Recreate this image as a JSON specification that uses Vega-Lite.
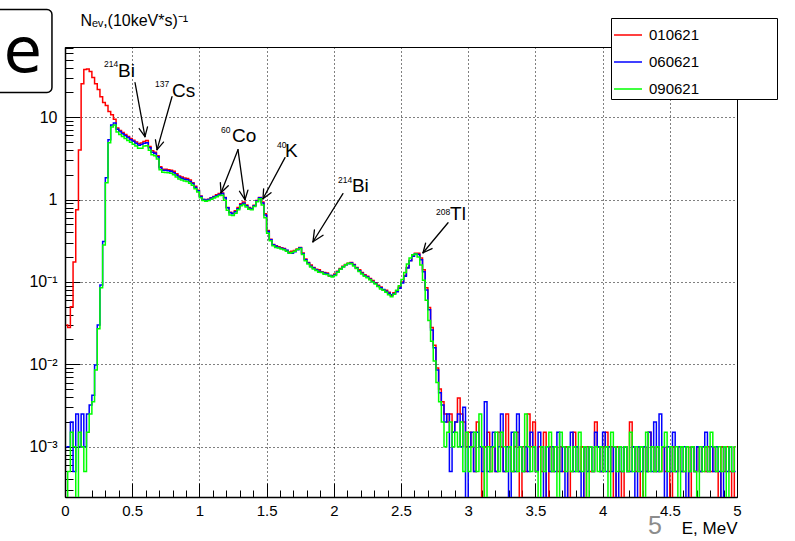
{
"$schema": "https://vega.github.io/schema/vega-lite/v6.json",
"width": 672, "height": 450,
"autosize": "none",
"padding": {"left": 65, "top": 47, "right": 58, "bottom": 44},
"background": "white",
"config": {
  "font": "Liberation Sans",
  "view": {"stroke": "black", "strokeWidth": 1},
  "axis": {"labelFont": "Liberation Sans", "titleFont": "Liberation Sans", "labelColor": "black", "titleColor": "black", "titleFontWeight": "normal", "domainColor": "black", "tickColor": "black", "gridColor": "black", "gridDash": [1, 3], "gridOpacity": 1, "labelFlush": false, "labelOverlap": false}
},
"datasets": {
"r": [{"e":0.01,"v":0.03},{"e":0.03,"v":0.028},{"e":0.05,"v":0.05},{"e":0.07,"v":0.175},{"e":0.09,"v":0.75},{"e":0.11,"v":4.0},{"e":0.13,"v":25.5},{"e":0.15,"v":37.8},{"e":0.17,"v":38.3},{"e":0.19,"v":35.7},
{"e":0.21,"v":30.2},{"e":0.23,"v":25.5},{"e":0.25,"v":21.6},{"e":0.27,"v":17.7},{"e":0.29,"v":15.0},{"e":0.31,"v":13.8},{"e":0.33,"v":11.7},{"e":0.35,"v":10.7},{"e":0.37,"v":9.4},{"e":0.39,"v":7.4},
{"e":0.41,"v":6.9},{"e":0.43,"v":6.5},{"e":0.45,"v":6.15},{"e":0.47,"v":5.8},{"e":0.49,"v":5.5},{"e":0.51,"v":5.25},{"e":0.53,"v":5.0},{"e":0.55,"v":4.75},{"e":0.57,"v":4.85},{"e":0.59,"v":5.05},
{"e":0.61,"v":5.2},{"e":0.63,"v":4.4},{"e":0.65,"v":3.9},{"e":0.67,"v":3.75},{"e":0.69,"v":3.4},{"e":0.71,"v":2.5},{"e":0.73,"v":2.33},{"e":0.75,"v":2.33},{"e":0.77,"v":2.3},{"e":0.79,"v":2.27},
{"e":0.81,"v":2.2},{"e":0.83,"v":2.05},{"e":0.85,"v":1.93},{"e":0.87,"v":1.88},{"e":0.89,"v":1.83},{"e":0.91,"v":1.8},{"e":0.93,"v":1.72},{"e":0.95,"v":1.6},{"e":0.97,"v":1.45},{"e":0.99,"v":1.3},
{"e":1.01,"v":1.1},{"e":1.03,"v":1.0},{"e":1.05,"v":0.99},{"e":1.07,"v":1.01},{"e":1.09,"v":1.05},{"e":1.11,"v":1.09},{"e":1.13,"v":1.14},{"e":1.15,"v":1.18},{"e":1.17,"v":1.2},{"e":1.19,"v":1.06},
{"e":1.21,"v":0.8},{"e":1.23,"v":0.7},{"e":1.25,"v":0.68},{"e":1.27,"v":0.73},{"e":1.29,"v":0.8},{"e":1.31,"v":0.89},{"e":1.33,"v":0.93},{"e":1.35,"v":0.86},{"e":1.37,"v":0.8},{"e":1.39,"v":0.78},
{"e":1.41,"v":0.85},{"e":1.43,"v":0.97},{"e":1.45,"v":1.06},{"e":1.47,"v":0.93},{"e":1.49,"v":0.67},{"e":1.51,"v":0.42},{"e":1.53,"v":0.33},{"e":1.55,"v":0.285},{"e":1.57,"v":0.275},{"e":1.59,"v":0.268},
{"e":1.61,"v":0.26},{"e":1.63,"v":0.255},{"e":1.65,"v":0.24},{"e":1.67,"v":0.23},{"e":1.69,"v":0.235},{"e":1.71,"v":0.24},{"e":1.73,"v":0.25},{"e":1.75,"v":0.262},{"e":1.77,"v":0.225},{"e":1.79,"v":0.19},
{"e":1.81,"v":0.172},{"e":1.83,"v":0.16},{"e":1.85,"v":0.15},{"e":1.87,"v":0.142},{"e":1.89,"v":0.14},{"e":1.91,"v":0.133},{"e":1.93,"v":0.13},{"e":1.95,"v":0.128},{"e":1.97,"v":0.118},{"e":1.99,"v":0.12},
{"e":2.01,"v":0.125},{"e":2.03,"v":0.135},{"e":2.05,"v":0.145},{"e":2.07,"v":0.155},{"e":2.09,"v":0.163},{"e":2.11,"v":0.168},{"e":2.13,"v":0.172},{"e":2.15,"v":0.163},{"e":2.17,"v":0.15},{"e":2.19,"v":0.14},
{"e":2.21,"v":0.13},{"e":2.23,"v":0.122},{"e":2.25,"v":0.117},{"e":2.27,"v":0.11},{"e":2.29,"v":0.104},{"e":2.31,"v":0.098},{"e":2.33,"v":0.091},{"e":2.35,"v":0.087},{"e":2.37,"v":0.08},{"e":2.39,"v":0.079},
{"e":2.41,"v":0.075},{"e":2.43,"v":0.069},{"e":2.45,"v":0.074},{"e":2.47,"v":0.078},{"e":2.49,"v":0.087},{"e":2.51,"v":0.1},{"e":2.53,"v":0.12},{"e":2.55,"v":0.15},{"e":2.57,"v":0.182},{"e":2.59,"v":0.208},
{"e":2.61,"v":0.222},{"e":2.63,"v":0.222},{"e":2.65,"v":0.195},{"e":2.67,"v":0.14},{"e":2.69,"v":0.085},{"e":2.71,"v":0.049},{"e":2.73,"v":0.028},{"e":2.75,"v":0.017},{"e":2.77,"v":0.009},{"e":2.79,"v":0.005},
{"e":2.81,"v":0.0035},{"e":2.83,"v":0.0025},{"e":2.85,"v":0.002},{"e":2.87,"v":0.0025},{"e":2.89,"v":0.0015},{"e":2.91,"v":0.002},{"e":2.93,"v":0.0039},{"e":2.95,"v":0.0025},{"e":2.97,"v":0.002},{"e":2.99,"v":0.001},
{"e":3.01,"v":0.0015},{"e":3.03,"v":0.001},{"e":3.05,"v":0.0005},{"e":3.07,"v":0.002},{"e":3.09,"v":0.001},{"e":3.11,"v":0.0001},{"e":3.13,"v":0.001},{"e":3.15,"v":0.0015},{"e":3.17,"v":0.0005},{"e":3.19,"v":0.001},
{"e":3.21,"v":0.0005},{"e":3.23,"v":0.0015},{"e":3.25,"v":0.001},{"e":3.27,"v":0.0005},{"e":3.29,"v":0.0025},{"e":3.31,"v":0.001},{"e":3.33,"v":0.0005},{"e":3.35,"v":0.001},{"e":3.37,"v":0.0015},{"e":3.39,"v":0.0001},
{"e":3.41,"v":0.001},{"e":3.43,"v":0.0005},{"e":3.45,"v":0.0025},{"e":3.47,"v":0.001},{"e":3.49,"v":0.002},{"e":3.51,"v":0.0005},{"e":3.53,"v":0.001},{"e":3.55,"v":0.0005},{"e":3.57,"v":0.0015},{"e":3.59,"v":0.0001},
{"e":3.61,"v":0.001},{"e":3.63,"v":0.0005},{"e":3.65,"v":0.001},{"e":3.67,"v":0.0005},{"e":3.69,"v":0.001},{"e":3.71,"v":0.0005},{"e":3.73,"v":0.001},{"e":3.75,"v":0.0001},{"e":3.77,"v":0.0005},{"e":3.79,"v":0.0015},
{"e":3.81,"v":0.001},{"e":3.83,"v":0.0005},{"e":3.85,"v":0.001},{"e":3.87,"v":0.0001},{"e":3.89,"v":0.001},{"e":3.91,"v":0.0005},{"e":3.93,"v":0.0005},{"e":3.95,"v":0.002},{"e":3.97,"v":0.001},{"e":3.99,"v":0.0005},
{"e":4.01,"v":0.001},{"e":4.03,"v":0.0015},{"e":4.05,"v":0.0005},{"e":4.07,"v":0.001},{"e":4.09,"v":0.0001},{"e":4.11,"v":0.001},{"e":4.13,"v":0.0005},{"e":4.15,"v":0.0001},{"e":4.17,"v":0.001},{"e":4.19,"v":0.0005},
{"e":4.21,"v":0.002},{"e":4.23,"v":0.001},{"e":4.25,"v":0.0005},{"e":4.27,"v":0.001},{"e":4.29,"v":0.0001},{"e":4.31,"v":0.001},{"e":4.33,"v":0.0005},{"e":4.35,"v":0.0015},{"e":4.37,"v":0.001},{"e":4.39,"v":0.0005},
{"e":4.41,"v":0.001},{"e":4.43,"v":0.0005},{"e":4.45,"v":0.001},{"e":4.47,"v":0.0005},{"e":4.49,"v":0.001},{"e":4.51,"v":0.0001},{"e":4.53,"v":0.001},{"e":4.55,"v":0.0005},{"e":4.57,"v":0.001},{"e":4.59,"v":0.0005},
{"e":4.61,"v":0.0005},{"e":4.63,"v":0.001},{"e":4.65,"v":0.0001},{"e":4.67,"v":0.001},{"e":4.69,"v":0.0005},{"e":4.71,"v":0.001},{"e":4.73,"v":0.0005},{"e":4.75,"v":0.001},{"e":4.77,"v":0.0005},{"e":4.79,"v":0.001},
{"e":4.81,"v":0.0005},{"e":4.83,"v":0.001},{"e":4.85,"v":0.0005},{"e":4.87,"v":0.0001},{"e":4.89,"v":0.001},{"e":4.91,"v":0.0005},{"e":4.93,"v":0.001},{"e":4.95,"v":0.0005},{"e":4.97,"v":0.0001},{"e":4.99,"v":0.001}],
"b": [{"e":0.01,"v":0.001},{"e":0.03,"v":0.001},{"e":0.05,"v":0.002},{"e":0.07,"v":0.0005},{"e":0.09,"v":0.0025},{"e":0.11,"v":0.001},{"e":0.13,"v":0.0025},{"e":0.15,"v":0.001},{"e":0.17,"v":0.0025},{"e":0.19,"v":0.0032},
{"e":0.21,"v":0.0042},{"e":0.23,"v":0.0098},{"e":0.25,"v":0.03},{"e":0.27,"v":0.092},{"e":0.29,"v":0.31},{"e":0.31,"v":1.84},{"e":0.33,"v":5.3},{"e":0.35,"v":8.0},{"e":0.37,"v":8.5},{"e":0.39,"v":7.15},
{"e":0.41,"v":6.67},{"e":0.43,"v":6.3},{"e":0.45,"v":5.96},{"e":0.47,"v":5.64},{"e":0.49,"v":5.33},{"e":0.51,"v":5.08},{"e":0.53,"v":4.83},{"e":0.55,"v":4.57},{"e":0.57,"v":4.64},{"e":0.59,"v":4.83},
{"e":0.61,"v":4.9},{"e":0.63,"v":4.26},{"e":0.65,"v":3.76},{"e":0.67,"v":3.65},{"e":0.69,"v":3.31},{"e":0.71,"v":2.43},{"e":0.73,"v":2.27},{"e":0.75,"v":2.26},{"e":0.77,"v":2.24},{"e":0.79,"v":2.2},
{"e":0.81,"v":2.12},{"e":0.83,"v":1.98},{"e":0.85,"v":1.87},{"e":0.87,"v":1.81},{"e":0.89,"v":1.76},{"e":0.91,"v":1.74},{"e":0.93,"v":1.66},{"e":0.95,"v":1.56},{"e":0.97,"v":1.41},{"e":0.99,"v":1.28},
{"e":1.01,"v":1.09},{"e":1.03,"v":1.0},{"e":1.05,"v":0.98},{"e":1.07,"v":1.0},{"e":1.09,"v":1.04},{"e":1.11,"v":1.07},{"e":1.13,"v":1.11},{"e":1.15,"v":1.15},{"e":1.17,"v":1.18},{"e":1.19,"v":1.05},
{"e":1.21,"v":0.795},{"e":1.23,"v":0.69},{"e":1.25,"v":0.67},{"e":1.27,"v":0.71},{"e":1.29,"v":0.77},{"e":1.31,"v":0.865},{"e":1.33,"v":0.9},{"e":1.35,"v":0.84},{"e":1.37,"v":0.785},{"e":1.39,"v":0.77},
{"e":1.41,"v":0.84},{"e":1.43,"v":0.96},{"e":1.45,"v":1.05},{"e":1.47,"v":0.91},{"e":1.49,"v":0.65},{"e":1.51,"v":0.41},{"e":1.53,"v":0.325},{"e":1.55,"v":0.282},{"e":1.57,"v":0.27},{"e":1.59,"v":0.262},
{"e":1.61,"v":0.257},{"e":1.63,"v":0.25},{"e":1.65,"v":0.243},{"e":1.67,"v":0.226},{"e":1.69,"v":0.222},{"e":1.71,"v":0.232},{"e":1.73,"v":0.245},{"e":1.75,"v":0.26},{"e":1.77,"v":0.22},{"e":1.79,"v":0.186},
{"e":1.81,"v":0.17},{"e":1.83,"v":0.155},{"e":1.85,"v":0.147},{"e":1.87,"v":0.14},{"e":1.89,"v":0.135},{"e":1.91,"v":0.131},{"e":1.93,"v":0.128},{"e":1.95,"v":0.126},{"e":1.97,"v":0.12},{"e":1.99,"v":0.117},
{"e":2.01,"v":0.122},{"e":2.03,"v":0.133},{"e":2.05,"v":0.142},{"e":2.07,"v":0.153},{"e":2.09,"v":0.161},{"e":2.11,"v":0.166},{"e":2.13,"v":0.17},{"e":2.15,"v":0.16},{"e":2.17,"v":0.148},{"e":2.19,"v":0.137},
{"e":2.21,"v":0.127},{"e":2.23,"v":0.12},{"e":2.25,"v":0.115},{"e":2.27,"v":0.108},{"e":2.29,"v":0.101},{"e":2.31,"v":0.096},{"e":2.33,"v":0.089},{"e":2.35,"v":0.085},{"e":2.37,"v":0.081},{"e":2.39,"v":0.077},
{"e":2.41,"v":0.073},{"e":2.43,"v":0.07},{"e":2.45,"v":0.072},{"e":2.47,"v":0.076},{"e":2.49,"v":0.084},{"e":2.51,"v":0.097},{"e":2.53,"v":0.117},{"e":2.55,"v":0.148},{"e":2.57,"v":0.18},{"e":2.59,"v":0.205},
{"e":2.61,"v":0.22},{"e":2.63,"v":0.215},{"e":2.65,"v":0.186},{"e":2.67,"v":0.133},{"e":2.69,"v":0.08},{"e":2.71,"v":0.046},{"e":2.73,"v":0.026},{"e":2.75,"v":0.0159},{"e":2.77,"v":0.0085},{"e":2.79,"v":0.0045},
{"e":2.81,"v":0.0032},{"e":2.83,"v":0.002},{"e":2.85,"v":0.0025},{"e":2.87,"v":0.0005},{"e":2.89,"v":0.0015},{"e":2.91,"v":0.002},{"e":2.93,"v":0.0025},{"e":2.95,"v":0.001},{"e":2.97,"v":0.003},{"e":2.99,"v":0.0001},
{"e":3.01,"v":0.001},{"e":3.03,"v":0.0015},{"e":3.05,"v":0.0005},{"e":3.07,"v":0.0015},{"e":3.09,"v":0.001},{"e":3.11,"v":0.0005},{"e":3.13,"v":0.0035},{"e":3.15,"v":0.0005},{"e":3.17,"v":0.001},{"e":3.19,"v":0.0015},
{"e":3.21,"v":0.0005},{"e":3.23,"v":0.001},{"e":3.25,"v":0.0025},{"e":3.27,"v":0.0005},{"e":3.29,"v":0.001},{"e":3.31,"v":0.0001},{"e":3.33,"v":0.0015},{"e":3.35,"v":0.0005},{"e":3.37,"v":0.0025},{"e":3.39,"v":0.001},
{"e":3.41,"v":0.0005},{"e":3.43,"v":0.001},{"e":3.45,"v":0.0005},{"e":3.47,"v":0.0015},{"e":3.49,"v":0.001},{"e":3.51,"v":0.0005},{"e":3.53,"v":0.0015},{"e":3.55,"v":0.001},{"e":3.57,"v":0.0001},{"e":3.59,"v":0.001},
{"e":3.61,"v":0.0005},{"e":3.63,"v":0.001},{"e":3.65,"v":0.0005},{"e":3.67,"v":0.0015},{"e":3.69,"v":0.0005},{"e":3.71,"v":0.001},{"e":3.73,"v":0.0001},{"e":3.75,"v":0.001},{"e":3.77,"v":0.0015},{"e":3.79,"v":0.0005},
{"e":3.81,"v":0.001},{"e":3.83,"v":0.0005},{"e":3.85,"v":0.0001},{"e":3.87,"v":0.001},{"e":3.89,"v":0.0005},{"e":3.91,"v":0.001},{"e":3.93,"v":0.0005},{"e":3.95,"v":0.0015},{"e":3.97,"v":0.001},{"e":3.99,"v":0.0005},
{"e":4.01,"v":0.0015},{"e":4.03,"v":0.0005},{"e":4.05,"v":0.001},{"e":4.07,"v":0.0005},{"e":4.09,"v":0.001},{"e":4.11,"v":0.0001},{"e":4.13,"v":0.001},{"e":4.15,"v":0.0005},{"e":4.17,"v":0.001},{"e":4.19,"v":0.0005},
{"e":4.21,"v":0.0005},{"e":4.23,"v":0.001},{"e":4.25,"v":0.0001},{"e":4.27,"v":0.001},{"e":4.29,"v":0.0005},{"e":4.31,"v":0.001},{"e":4.33,"v":0.0005},{"e":4.35,"v":0.0015},{"e":4.37,"v":0.0005},{"e":4.39,"v":0.002},
{"e":4.41,"v":0.0005},{"e":4.43,"v":0.0025},{"e":4.45,"v":0.001},{"e":4.47,"v":0.0001},{"e":4.49,"v":0.001},{"e":4.51,"v":0.0005},{"e":4.53,"v":0.0015},{"e":4.55,"v":0.0005},{"e":4.57,"v":0.001},{"e":4.59,"v":0.0005},
{"e":4.61,"v":0.001},{"e":4.63,"v":0.0001},{"e":4.65,"v":0.0005},{"e":4.67,"v":0.001},{"e":4.69,"v":0.0005},{"e":4.71,"v":0.001},{"e":4.73,"v":0.0005},{"e":4.75,"v":0.001},{"e":4.77,"v":0.0015},{"e":4.79,"v":0.0005},
{"e":4.81,"v":0.001},{"e":4.83,"v":0.0005},{"e":4.85,"v":0.001},{"e":4.87,"v":0.0005},{"e":4.89,"v":0.0001},{"e":4.91,"v":0.001},{"e":4.93,"v":0.0005},{"e":4.95,"v":0.001},{"e":4.97,"v":0.0005},{"e":4.99,"v":0.0005}],
"g": [{"e":0.01,"v":0.0001},{"e":0.03,"v":0.0005},{"e":0.05,"v":0.0015},{"e":0.07,"v":0.001},{"e":0.09,"v":0.0001},{"e":0.11,"v":0.0015},{"e":0.13,"v":0.001},{"e":0.15,"v":0.0005},{"e":0.17,"v":0.0015},{"e":0.19,"v":0.0025},
{"e":0.21,"v":0.0035},{"e":0.23,"v":0.0085},{"e":0.25,"v":0.027},{"e":0.27,"v":0.085},{"e":0.29,"v":0.28},{"e":0.31,"v":1.6},{"e":0.33,"v":4.9},{"e":0.35,"v":7.6},{"e":0.37,"v":8.0},{"e":0.39,"v":6.6},
{"e":0.41,"v":6.15},{"e":0.43,"v":5.8},{"e":0.45,"v":5.5},{"e":0.47,"v":5.2},{"e":0.49,"v":4.95},{"e":0.51,"v":4.7},{"e":0.53,"v":4.45},{"e":0.55,"v":4.2},{"e":0.57,"v":4.2},{"e":0.59,"v":4.45},
{"e":0.61,"v":4.5},{"e":0.63,"v":3.95},{"e":0.65,"v":3.5},{"e":0.67,"v":3.4},{"e":0.69,"v":3.1},{"e":0.71,"v":2.3},{"e":0.73,"v":2.15},{"e":0.75,"v":2.13},{"e":0.77,"v":2.12},{"e":0.79,"v":2.08},
{"e":0.81,"v":2.0},{"e":0.83,"v":1.88},{"e":0.85,"v":1.78},{"e":0.87,"v":1.72},{"e":0.89,"v":1.68},{"e":0.91,"v":1.66},{"e":0.93,"v":1.58},{"e":0.95,"v":1.49},{"e":0.97,"v":1.35},{"e":0.99,"v":1.23},
{"e":1.01,"v":1.05},{"e":1.03,"v":0.97},{"e":1.05,"v":0.95},{"e":1.07,"v":0.97},{"e":1.09,"v":1.01},{"e":1.11,"v":1.04},{"e":1.13,"v":1.08},{"e":1.15,"v":1.12},{"e":1.17,"v":1.13},{"e":1.19,"v":0.98},
{"e":1.21,"v":0.74},{"e":1.23,"v":0.65},{"e":1.25,"v":0.64},{"e":1.27,"v":0.68},{"e":1.29,"v":0.75},{"e":1.31,"v":0.84},{"e":1.33,"v":0.87},{"e":1.35,"v":0.81},{"e":1.37,"v":0.76},{"e":1.39,"v":0.75},
{"e":1.41,"v":0.82},{"e":1.43,"v":0.94},{"e":1.45,"v":1.02},{"e":1.47,"v":0.86},{"e":1.49,"v":0.6},{"e":1.51,"v":0.39},{"e":1.53,"v":0.315},{"e":1.55,"v":0.275},{"e":1.57,"v":0.262},{"e":1.59,"v":0.258},
{"e":1.61,"v":0.25},{"e":1.63,"v":0.246},{"e":1.65,"v":0.235},{"e":1.67,"v":0.222},{"e":1.69,"v":0.228},{"e":1.71,"v":0.236},{"e":1.73,"v":0.248},{"e":1.75,"v":0.255},{"e":1.77,"v":0.215},{"e":1.79,"v":0.18},
{"e":1.81,"v":0.165},{"e":1.83,"v":0.152},{"e":1.85,"v":0.143},{"e":1.87,"v":0.138},{"e":1.89,"v":0.131},{"e":1.91,"v":0.13},{"e":1.93,"v":0.124},{"e":1.95,"v":0.123},{"e":1.97,"v":0.118},{"e":1.99,"v":0.115},
{"e":2.01,"v":0.12},{"e":2.03,"v":0.131},{"e":2.05,"v":0.142},{"e":2.07,"v":0.152},{"e":2.09,"v":0.162},{"e":2.11,"v":0.168},{"e":2.13,"v":0.166},{"e":2.15,"v":0.156},{"e":2.17,"v":0.145},{"e":2.19,"v":0.134},
{"e":2.21,"v":0.125},{"e":2.23,"v":0.117},{"e":2.25,"v":0.112},{"e":2.27,"v":0.106},{"e":2.29,"v":0.1},{"e":2.31,"v":0.094},{"e":2.33,"v":0.088},{"e":2.35,"v":0.082},{"e":2.37,"v":0.079},{"e":2.39,"v":0.075},
{"e":2.41,"v":0.07},{"e":2.43,"v":0.066},{"e":2.45,"v":0.071},{"e":2.47,"v":0.079},{"e":2.49,"v":0.09},{"e":2.51,"v":0.107},{"e":2.53,"v":0.13},{"e":2.55,"v":0.165},{"e":2.57,"v":0.195},{"e":2.59,"v":0.213},
{"e":2.61,"v":0.218},{"e":2.63,"v":0.2},{"e":2.65,"v":0.16},{"e":2.67,"v":0.105},{"e":2.69,"v":0.06},{"e":2.71,"v":0.034},{"e":2.73,"v":0.019},{"e":2.75,"v":0.011},{"e":2.77,"v":0.006},{"e":2.79,"v":0.0035},
{"e":2.81,"v":0.002},{"e":2.83,"v":0.001},{"e":2.85,"v":0.0015},{"e":2.87,"v":0.002},{"e":2.89,"v":0.001},{"e":2.91,"v":0.0015},{"e":2.93,"v":0.001},{"e":2.95,"v":0.002},{"e":2.97,"v":0.0005},{"e":2.99,"v":0.0015},
{"e":3.01,"v":0.0005},{"e":3.03,"v":0.001},{"e":3.05,"v":0.0015},{"e":3.07,"v":0.0005},{"e":3.09,"v":0.0025},{"e":3.11,"v":0.001},{"e":3.13,"v":0.0001},{"e":3.15,"v":0.001},{"e":3.17,"v":0.0005},{"e":3.19,"v":0.001},
{"e":3.21,"v":0.0015},{"e":3.23,"v":0.0005},{"e":3.25,"v":0.0015},{"e":3.27,"v":0.001},{"e":3.29,"v":0.0005},{"e":3.31,"v":0.001},{"e":3.33,"v":0.0005},{"e":3.35,"v":0.0015},{"e":3.37,"v":0.0005},{"e":3.39,"v":0.001},
{"e":3.41,"v":0.0005},{"e":3.43,"v":0.0025},{"e":3.45,"v":0.001},{"e":3.47,"v":0.0005},{"e":3.49,"v":0.001},{"e":3.51,"v":0.0005},{"e":3.53,"v":0.0001},{"e":3.55,"v":0.001},{"e":3.57,"v":0.0005},{"e":3.59,"v":0.001},
{"e":3.61,"v":0.0015},{"e":3.63,"v":0.0005},{"e":3.65,"v":0.001},{"e":3.67,"v":0.0001},{"e":3.69,"v":0.0015},{"e":3.71,"v":0.001},{"e":3.73,"v":0.0005},{"e":3.75,"v":0.001},{"e":3.77,"v":0.0005},{"e":3.79,"v":0.001},
{"e":3.81,"v":0.0005},{"e":3.83,"v":0.0015},{"e":3.85,"v":0.0005},{"e":3.87,"v":0.001},{"e":3.89,"v":0.0001},{"e":3.91,"v":0.001},{"e":3.93,"v":0.0005},{"e":3.95,"v":0.001},{"e":3.97,"v":0.0005},{"e":3.99,"v":0.001},
{"e":4.01,"v":0.0005},{"e":4.03,"v":0.001},{"e":4.05,"v":0.0001},{"e":4.07,"v":0.0015},{"e":4.09,"v":0.001},{"e":4.11,"v":0.0005},{"e":4.13,"v":0.001},{"e":4.15,"v":0.0005},{"e":4.17,"v":0.001},{"e":4.19,"v":0.0005},
{"e":4.21,"v":0.0015},{"e":4.23,"v":0.0005},{"e":4.25,"v":0.001},{"e":4.27,"v":0.0005},{"e":4.29,"v":0.001},{"e":4.31,"v":0.0001},{"e":4.33,"v":0.0015},{"e":4.35,"v":0.0005},{"e":4.37,"v":0.001},{"e":4.39,"v":0.0005},
{"e":4.41,"v":0.001},{"e":4.43,"v":0.0005},{"e":4.45,"v":0.001},{"e":4.47,"v":0.0015},{"e":4.49,"v":0.0005},{"e":4.51,"v":0.001},{"e":4.53,"v":0.0005},{"e":4.55,"v":0.001},{"e":4.57,"v":0.0001},{"e":4.59,"v":0.001},
{"e":4.61,"v":0.0005},{"e":4.63,"v":0.001},{"e":4.65,"v":0.0005},{"e":4.67,"v":0.001},{"e":4.69,"v":0.0005},{"e":4.71,"v":0.0001},{"e":4.73,"v":0.001},{"e":4.75,"v":0.0005},{"e":4.77,"v":0.001},{"e":4.79,"v":0.0005},
{"e":4.81,"v":0.0015},{"e":4.83,"v":0.001},{"e":4.85,"v":0.0005},{"e":4.87,"v":0.001},{"e":4.89,"v":0.0005},{"e":4.91,"v":0.001},{"e":4.93,"v":0.0001},{"e":4.95,"v":0.001},{"e":4.97,"v":0.0005},{"e":4.99,"v":0.001}],
"seg": [
{"e":0.521,"v":26.3,"e2":0.595,"v2":5.80},{"e":0.595,"v":5.80,"e2":0.614,"v2":7.60},{"e":0.595,"v":5.80,"e2":0.552,"v2":7.27},
{"e":0.796,"v":17.7,"e2":0.685,"v2":4.03},{"e":0.685,"v":4.03,"e2":0.733,"v2":4.98},{"e":0.685,"v":4.03,"e2":0.673,"v2":5.31},
{"e":1.287,"v":4.03,"e2":1.161,"v2":1.21},{"e":1.161,"v":1.21,"e2":1.215,"v2":1.47},{"e":1.161,"v":1.21,"e2":1.156,"v2":1.60},
{"e":1.287,"v":4.03,"e2":1.339,"v2":0.995},{"e":1.339,"v":0.995,"e2":1.361,"v2":1.30},{"e":1.339,"v":0.995,"e2":1.298,"v2":1.26},
{"e":1.637,"v":3.22,"e2":1.473,"v2":1.02},{"e":1.473,"v":1.02,"e2":1.533,"v2":1.21},{"e":1.473,"v":1.02,"e2":1.478,"v2":1.35},
{"e":2.068,"v":1.18,"e2":1.845,"v2":0.307},{"e":1.845,"v":0.307,"e2":1.920,"v2":0.368},{"e":1.845,"v":0.307,"e2":1.856,"v2":0.429},
{"e":2.850,"v":0.522,"e2":2.664,"v2":0.226},{"e":2.664,"v":0.226,"e2":2.731,"v2":0.254},{"e":2.664,"v":0.226,"e2":2.683,"v2":0.296}],
"big": [{"e":0.394,"v":31.0,"t":"Bi"},{"e":0.796,"v":17.7,"t":"Cs"},{"e":1.243,"v":5.04,"t":"Co"},{"e":1.637,"v":3.31,"t":"K"},{"e":2.135,"v":1.24,"t":"Bi"},{"e":2.865,"v":0.569,"t":"Tl"}],
"sup": [{"e":0.290,"v":41.1,"t":"214"},{"e":0.670,"v":23.5,"t":"137"},{"e":1.161,"v":6.48,"t":"60"},{"e":1.577,"v":4.26,"t":"40"},{"e":2.031,"v":1.60,"t":"214"},{"e":2.760,"v":0.653,"t":"208"}],
"box": [{"e":-0.6,"e2":-0.097,"v":202,"v2":19.9}],
"slide": [{"e":-0.313,"v":35.7,"t":"e"}],
"page": [{"e":4.39,"v":0.000087,"t":"5"}]
},
"resolve": {"axis": {"x": "independent", "y": "independent"}},
"layer": [
{
  "data": {"name": "r"},
  "mark": {"type": "line", "interpolate": "step", "strokeWidth": 1.5, "clip": true},
  "encoding": {
    "x": {"field": "e", "type": "quantitative", "scale": {"domain": [0, 5], "nice": false, "zero": false},
      "axis": {"orient": "bottom", "values": [0,0.5,1,1.5,2,2.5,3,3.5,4,4.5,5], "format": "~g", "ticks": false, "grid": true, "labelFontSize": 15, "labelPadding": 6, "domain": true, "domainWidth": 1.5,
        "title": "E, MeV", "titleFontSize": 17, "titleAlign": "right", "titleAnchor": "end", "titleX": 672, "titleY": 36, "titleBaseline": "alphabetic"}},
    "y": {"field": "v", "type": "quantitative", "scale": {"type": "log", "domain": [0.000245, 71], "nice": false},
      "axis": {"orient": "left", "values": [0.001, 0.01, 0.1, 1, 10], "ticks": false, "grid": true, "labelFontSize": 16, "labelPadding": 8, "domain": true, "domainWidth": 1.5,
        "labelExpr": "datum.value >= 5 ? '10' : datum.value >= 0.5 ? '1' : datum.value >= 0.05 ? '10⁻¹' : datum.value >= 0.005 ? '10⁻²' : '10⁻³'",
        "title": "Nₑᵥ,(10keV*s)⁻¹", "titleFontSize": 16, "titleAngle": 0, "titleAlign": "left", "titleX": 15, "titleY": -22, "titleBaseline": "alphabetic"}},
    "color": {"datum": "010621", "type": "nominal",
      "scale": {"domain": ["010621", "060621", "090621"], "range": ["#ff0000", "#0000ff", "#00ff00"]},
      "legend": {"title": null, "orient": "none", "legendX": 546, "legendY": -29, "strokeColor": "black", "fillColor": "white", "padding": 2,
        "labelFontSize": 15, "labelFont": "Liberation Sans", "labelColor": "black", "labelLimit": 300, "symbolType": "stroke", "symbolStrokeWidth": 1.5, "symbolSize": 784, "rowPadding": 4, "labelOffset": 6,
        "labelExpr": "datum.label + '\u00a0\u00a0\u00a0\u00a0\u00a0\u00a0\u00a0\u00a0\u00a0\u00a0\u00a0\u00a0\u00a0\u00a0\u00a0\u00a0\u00a0\u00a0\u200b'"}}
  }
},
{
  "data": {"name": "b"},
  "mark": {"type": "line", "interpolate": "step", "strokeWidth": 1.5, "clip": true},
  "encoding": {
    "x": {"field": "e", "type": "quantitative", "scale": {"domain": [0, 5], "nice": false, "zero": false},
      "axis": {"orient": "bottom", "values": [0,0.5,1,1.5,2,2.5,3,3.5,4,4.5,5], "labels": false, "grid": false, "domain": false, "tickSize": -14, "title": null}},
    "y": {"field": "v", "type": "quantitative", "scale": {"type": "log", "domain": [0.000245, 71], "nice": false},
      "axis": {"orient": "left", "values": [0.001, 0.01, 0.1, 1, 10], "labels": false, "grid": false, "domain": false, "tickSize": -15, "title": null}},
    "color": {"datum": "060621", "type": "nominal"}
  }
},
{
  "data": {"name": "g"},
  "mark": {"type": "line", "interpolate": "step", "strokeWidth": 1.5, "clip": true},
  "encoding": {
    "x": {"field": "e", "type": "quantitative", "scale": {"domain": [0, 5], "nice": false, "zero": false},
      "axis": {"orient": "bottom", "values": [0.1,0.2,0.3,0.4,0.6,0.7,0.8,0.9,1.1,1.2,1.3,1.4,1.6,1.7,1.8,1.9,2.1,2.2,2.3,2.4,2.6,2.7,2.8,2.9,3.1,3.2,3.3,3.4,3.6,3.7,3.8,3.9,4.1,4.2,4.3,4.4,4.6,4.7,4.8,4.9], "labels": false, "grid": false, "domain": false, "tickSize": -7, "title": null}},
    "y": {"field": "v", "type": "quantitative", "scale": {"type": "log", "domain": [0.000245, 71], "nice": false},
      "axis": {"orient": "left", "values": [0.0003,0.0004,0.0005,0.0006,0.0007,0.0008,0.0009,0.002,0.003,0.004,0.005,0.006,0.007,0.008,0.009,0.02,0.03,0.04,0.05,0.06,0.07,0.08,0.09,0.2,0.3,0.4,0.5,0.6,0.7,0.8,0.9,2,3,4,5,6,7,8,9,20,30,40,50,60,70], "labels": false, "grid": false, "domain": false, "tickSize": -8, "title": null}},
    "color": {"datum": "090621", "type": "nominal"}
  }
},
{
  "data": {"name": "seg"},
  "mark": {"type": "rule", "color": "black", "strokeWidth": 1.3, "strokeCap": "round"},
  "encoding": {
    "x": {"field": "e", "type": "quantitative", "scale": {"domain": [0, 5], "nice": false, "zero": false}, "axis": null},
    "x2": {"field": "e2"},
    "y": {"field": "v", "type": "quantitative", "scale": {"type": "log", "domain": [0.000245, 71], "nice": false}, "axis": null},
    "y2": {"field": "v2"}
  }
},
{
  "data": {"name": "big"},
  "mark": {"type": "text", "align": "left", "baseline": "alphabetic", "fontSize": 19, "font": "Liberation Sans", "color": "black"},
  "encoding": {
    "x": {"field": "e", "type": "quantitative", "scale": {"domain": [0, 5], "nice": false, "zero": false}, "axis": null},
    "y": {"field": "v", "type": "quantitative", "scale": {"type": "log", "domain": [0.000245, 71], "nice": false}, "axis": null},
    "text": {"field": "t"}
  }
},
{
  "data": {"name": "sup"},
  "mark": {"type": "text", "align": "left", "baseline": "alphabetic", "fontSize": 8.5, "font": "Liberation Sans", "color": "black"},
  "encoding": {
    "x": {"field": "e", "type": "quantitative", "scale": {"domain": [0, 5], "nice": false, "zero": false}, "axis": null},
    "y": {"field": "v", "type": "quantitative", "scale": {"type": "log", "domain": [0.000245, 71], "nice": false}, "axis": null},
    "text": {"field": "t"}
  }
},
{
  "data": {"name": "box"},
  "mark": {"type": "rect", "fill": "white", "stroke": "black", "strokeWidth": 1.5, "cornerRadius": 5},
  "encoding": {
    "x": {"field": "e", "type": "quantitative", "scale": {"domain": [0, 5], "nice": false, "zero": false}, "axis": null},
    "x2": {"field": "e2"},
    "y": {"field": "v", "type": "quantitative", "scale": {"type": "log", "domain": [0.000245, 71], "nice": false}, "axis": null},
    "y2": {"field": "v2"}
  }
},
{
  "data": {"name": "slide"},
  "mark": {"type": "text", "align": "center", "baseline": "alphabetic", "fontSize": 62, "font": "DejaVu Sans", "color": "black"},
  "encoding": {
    "x": {"field": "e", "type": "quantitative", "scale": {"domain": [0, 5], "nice": false, "zero": false}, "axis": null},
    "y": {"field": "v", "type": "quantitative", "scale": {"type": "log", "domain": [0.000245, 71], "nice": false}, "axis": null},
    "text": {"field": "t"}
  }
},
{
  "data": {"name": "page"},
  "mark": {"type": "text", "align": "center", "baseline": "alphabetic", "fontSize": 25, "font": "Liberation Sans", "color": "#8c8c8c"},
  "encoding": {
    "x": {"field": "e", "type": "quantitative", "scale": {"domain": [0, 5], "nice": false, "zero": false}, "axis": null},
    "y": {"field": "v", "type": "quantitative", "scale": {"type": "log", "domain": [0.000245, 71], "nice": false}, "axis": null},
    "text": {"field": "t"}
  }
}
]
}
